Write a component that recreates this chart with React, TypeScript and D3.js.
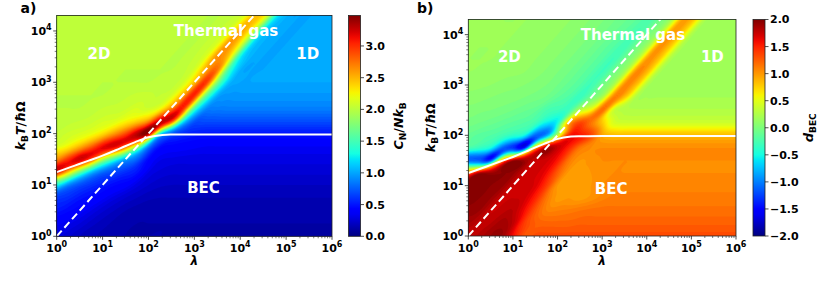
import { useMemo } from "react";
import * as d3 from "d3";

// ---------------------------------------------------------------------------
// Data. Grid nodes are in log10 units.
// ---------------------------------------------------------------------------

const gridLogLambda = [0, 0.25, 0.5, 0.75, 1, 1.25, 1.5, 1.75, 2, 2.25, 2.5, 2.75, 3, 3.25, 3.5, 3.75, 4, 4.25, 4.5, 4.75, 5, 5.25, 5.5, 5.75, 6];
const gridLogT = [0, 0.25, 0.5, 0.75, 1, 1.25, 1.5, 1.75, 2, 2.25, 2.5, 2.75, 3, 3.25, 3.5, 3.75, 4, 4.25, 4.5];

// panel a: C_N / N k_B, one row per gridLogT value (bottom row first)
const heatA: number[][] = [
  [0.30, 0.25, 0.20, 0.17, 0.15, 0.13, 0.12, 0.12, 0.12, 0.12, 0.11, 0.11, 0.11, 0.11, 0.11, 0.11, 0.11, 0.11, 0.11, 0.11, 0.11, 0.11, 0.11, 0.11, 0.11],
  [0.38, 0.33, 0.28, 0.22, 0.18, 0.15, 0.13, 0.12, 0.12, 0.12, 0.12, 0.12, 0.12, 0.12, 0.12, 0.12, 0.12, 0.12, 0.12, 0.12, 0.12, 0.12, 0.12, 0.12, 0.12],
  [0.50, 0.45, 0.40, 0.32, 0.25, 0.20, 0.16, 0.14, 0.13, 0.13, 0.13, 0.13, 0.13, 0.13, 0.13, 0.13, 0.13, 0.13, 0.13, 0.13, 0.13, 0.13, 0.13, 0.13, 0.13],
  [0.62, 0.58, 0.50, 0.45, 0.38, 0.30, 0.24, 0.20, 0.17, 0.16, 0.16, 0.16, 0.16, 0.16, 0.16, 0.16, 0.16, 0.16, 0.16, 0.16, 0.16, 0.16, 0.16, 0.16, 0.16],
  [1.30, 0.90, 0.70, 0.60, 0.52, 0.45, 0.40, 0.30, 0.24, 0.21, 0.20, 0.20, 0.20, 0.20, 0.20, 0.20, 0.20, 0.20, 0.20, 0.20, 0.20, 0.20, 0.20, 0.20, 0.20],
  [3.10, 2.40, 1.65, 1.10, 0.80, 0.68, 0.58, 0.50, 0.32, 0.27, 0.25, 0.25, 0.25, 0.25, 0.25, 0.25, 0.25, 0.25, 0.25, 0.25, 0.25, 0.25, 0.25, 0.25, 0.25],
  [2.65, 3.00, 3.25, 2.88, 2.00, 1.45, 1.00, 0.78, 0.45, 0.33, 0.31, 0.30, 0.30, 0.30, 0.30, 0.30, 0.30, 0.30, 0.30, 0.30, 0.30, 0.30, 0.30, 0.30, 0.30],
  [2.15, 2.28, 2.50, 2.80, 3.15, 3.20, 2.80, 1.95, 0.90, 0.48, 0.42, 0.40, 0.38, 0.36, 0.36, 0.36, 0.36, 0.36, 0.36, 0.36, 0.36, 0.36, 0.36, 0.36, 0.36],
  [2.05, 2.09, 2.13, 2.20, 2.35, 2.60, 2.90, 3.30, 3.35, 1.30, 0.75, 0.58, 0.52, 0.50, 0.50, 0.50, 0.50, 0.50, 0.50, 0.50, 0.50, 0.50, 0.50, 0.50, 0.50],
  [2.02, 2.03, 2.04, 2.06, 2.11, 2.14, 2.25, 2.38, 2.60, 3.25, 3.03, 1.36, 0.75, 0.70, 0.70, 0.70, 0.70, 0.70, 0.70, 0.70, 0.70, 0.70, 0.70, 0.70, 0.70],
  [2.00, 2.00, 2.00, 2.02, 2.04, 2.05, 2.07, 2.12, 2.08, 2.20, 2.63, 3.07, 1.58, 0.94, 0.87, 0.87, 0.87, 0.87, 0.87, 0.87, 0.87, 0.87, 0.87, 0.87, 0.87],
  [2.00, 2.00, 2.00, 2.00, 2.00, 2.02, 2.03, 2.05, 2.05, 2.04, 2.11, 2.52, 3.05, 1.72, 1.04, 0.95, 0.95, 0.95, 0.95, 0.95, 0.95, 0.95, 0.95, 0.95, 0.95],
  [2.00, 2.00, 2.00, 2.00, 2.00, 2.00, 2.00, 2.00, 2.00, 2.02, 2.03, 2.09, 2.45, 2.99, 1.77, 1.10, 1.00, 1.00, 1.00, 1.00, 1.00, 1.00, 1.00, 1.00, 1.00],
  [2.00, 2.00, 2.00, 2.00, 2.00, 2.00, 2.00, 2.00, 2.00, 2.00, 2.00, 2.03, 2.11, 2.53, 2.75, 1.52, 1.05, 1.00, 1.00, 1.00, 1.00, 1.00, 1.00, 1.00, 1.00],
  [2.00, 2.00, 2.00, 2.00, 2.00, 2.00, 2.00, 2.00, 2.00, 2.00, 2.00, 2.00, 2.04, 2.15, 2.63, 2.41, 1.30, 1.04, 1.00, 1.00, 1.00, 1.00, 1.00, 1.00, 1.00],
  [2.00, 2.00, 2.00, 2.00, 2.00, 2.00, 2.00, 2.00, 2.00, 2.00, 2.00, 2.00, 2.00, 2.05, 2.15, 2.62, 2.24, 1.23, 1.03, 1.00, 1.00, 1.00, 1.00, 1.00, 1.00],
  [2.00, 2.00, 2.00, 2.00, 2.00, 2.00, 2.00, 2.00, 2.00, 2.00, 2.00, 2.00, 2.00, 2.00, 2.04, 2.14, 2.56, 2.19, 1.22, 1.03, 1.00, 1.00, 1.00, 1.00, 1.00],
  [2.00, 2.00, 2.00, 2.00, 2.00, 2.00, 2.00, 2.00, 2.00, 2.00, 2.00, 2.00, 2.00, 2.00, 2.00, 2.03, 2.11, 2.47, 2.24, 1.27, 1.03, 1.00, 1.00, 1.00, 1.00],
  [2.00, 2.00, 2.00, 2.00, 2.00, 2.00, 2.00, 2.00, 2.00, 2.00, 2.00, 2.00, 2.00, 2.00, 2.00, 2.00, 2.03, 2.10, 2.43, 2.26, 1.29, 1.03, 1.00, 1.00, 1.00],
];

// panel b: d_BEC, same grid
const heatB: number[][] = [
  [1.75, 1.82, 1.90, 1.90, 1.60, 1.30, 1.32, 1.32, 1.32, 1.32, 1.32, 1.32, 1.32, 1.32, 1.32, 1.32, 1.32, 1.32, 1.32, 1.32, 1.32, 1.32, 1.32, 1.32, 1.32],
  [1.85, 1.78, 1.80, 1.88, 1.78, 1.40, 1.25, 1.22, 1.22, 1.22, 1.24, 1.24, 1.24, 1.24, 1.24, 1.24, 1.24, 1.24, 1.24, 1.24, 1.24, 1.24, 1.24, 1.24, 1.24],
  [1.93, 1.90, 1.75, 1.78, 1.80, 1.60, 1.28, 1.10, 1.10, 1.12, 1.15, 1.17, 1.17, 1.17, 1.17, 1.17, 1.17, 1.17, 1.17, 1.17, 1.17, 1.17, 1.17, 1.17, 1.17],
  [1.97, 1.95, 1.90, 1.75, 1.75, 1.72, 1.50, 1.15, 0.98, 1.00, 0.98, 1.02, 1.08, 1.12, 1.12, 1.12, 1.12, 1.12, 1.12, 1.12, 1.12, 1.12, 1.12, 1.12, 1.12],
  [1.97, 1.97, 1.95, 1.92, 1.75, 1.72, 1.68, 1.40, 1.00, 0.97, 0.97, 1.00, 1.05, 1.08, 1.08, 1.08, 1.08, 1.08, 1.08, 1.08, 1.08, 1.08, 1.08, 1.08, 1.08],
  [1.20, 1.85, 1.90, 1.95, 1.92, 1.75, 1.72, 1.60, 1.25, 0.98, 0.97, 1.00, 1.03, 1.05, 1.05, 1.05, 1.05, 1.05, 1.05, 1.05, 1.05, 1.05, 1.05, 1.05, 1.05],
  [-1.10, -1.15, -1.25, 0.90, 1.85, 1.90, 1.75, 1.72, 1.55, 1.15, 1.00, 1.02, 1.05, 1.05, 1.05, 1.05, 1.05, 1.05, 1.05, 1.05, 1.05, 1.05, 1.05, 1.05, 1.05],
  [-0.25, -0.35, -0.50, -1.10, -1.30, -1.45, 0.90, 1.85, 1.75, 1.50, 1.15, 1.05, 1.05, 1.05, 1.05, 1.05, 1.05, 1.05, 1.05, 1.05, 1.05, 1.05, 1.05, 1.05, 1.05],
  [-0.12, -0.17, -0.20, -0.27, -0.38, -0.50, -1.10, -0.90, 0.30, 1.50, 1.55, 1.35, 0.95, 0.85, 0.85, 0.85, 0.85, 0.85, 0.85, 0.85, 0.85, 0.85, 0.85, 0.85, 0.85],
  [-0.02, -0.05, -0.08, -0.12, -0.16, -0.20, -0.28, -0.55, -0.50, 0.90, 1.35, 1.15, 0.80, 0.45, 0.40, 0.40, 0.40, 0.40, 0.40, 0.40, 0.40, 0.40, 0.40, 0.40, 0.40],
  [0.03, 0.01, 0.00, -0.02, -0.05, -0.09, -0.13, -0.25, -0.30, -0.30, 0.30, 0.60, 1.20, 0.40, 0.28, 0.26, 0.26, 0.26, 0.26, 0.26, 0.26, 0.26, 0.26, 0.26, 0.26],
  [0.08, 0.07, 0.05, 0.03, 0.02, 0.00, -0.03, -0.06, -0.15, -0.22, -0.33, -0.05, 0.25, 1.10, 0.80, 0.25, 0.20, 0.20, 0.20, 0.20, 0.20, 0.20, 0.20, 0.20, 0.20],
  [0.12, 0.11, 0.10, 0.08, 0.07, 0.05, 0.03, 0.00, -0.05, -0.12, -0.20, -0.30, -0.05, 0.22, 1.05, 0.85, 0.25, 0.18, 0.18, 0.18, 0.18, 0.18, 0.18, 0.18, 0.18],
  [0.15, 0.14, 0.13, 0.12, 0.11, 0.10, 0.07, 0.04, 0.00, -0.05, -0.12, -0.20, -0.30, -0.05, 0.22, 1.05, 0.85, 0.25, 0.18, 0.18, 0.18, 0.18, 0.18, 0.18, 0.18],
  [0.15, 0.15, 0.15, 0.14, 0.13, 0.12, 0.10, 0.07, 0.04, 0.00, -0.05, -0.12, -0.20, -0.30, -0.05, 0.22, 1.00, 0.82, 0.25, 0.18, 0.18, 0.18, 0.18, 0.18, 0.18],
  [0.15, 0.15, 0.15, 0.15, 0.14, 0.13, 0.12, 0.10, 0.07, 0.04, 0.00, -0.05, -0.12, -0.20, -0.28, -0.05, 0.22, 1.00, 0.80, 0.25, 0.18, 0.18, 0.18, 0.18, 0.18],
  [0.15, 0.15, 0.15, 0.15, 0.15, 0.14, 0.13, 0.12, 0.10, 0.07, 0.04, 0.00, -0.05, -0.11, -0.18, -0.26, -0.05, 0.20, 0.97, 0.80, 0.24, 0.18, 0.18, 0.18, 0.18],
  [0.15, 0.15, 0.15, 0.15, 0.15, 0.15, 0.14, 0.13, 0.12, 0.10, 0.07, 0.04, 0.00, -0.05, -0.10, -0.16, -0.24, -0.05, 0.20, 0.95, 0.80, 0.24, 0.18, 0.18, 0.18],
  [0.15, 0.15, 0.15, 0.15, 0.15, 0.15, 0.15, 0.14, 0.13, 0.12, 0.10, 0.07, 0.04, 0.00, -0.05, -0.10, -0.15, -0.22, -0.05, 0.20, 0.93, 0.78, 0.24, 0.18, 0.18],
];

// critical temperature (solid white line)
const tcLambda = [1, 2, 3, 5, 10, 20, 30, 50, 100, 200, 300, 1000, 10000, 1000000];
const tcTemp = [17.8, 22.2, 25.3, 29.8, 37.2, 47.9, 56.2, 67.6, 85.1, 94.4, 96.0, 96.5, 96.5, 96.5];

// kT = λ ħΩ (dashed white line)
const dashLambda = [1, 1000000];
const dashTemp = [1, 1000000];

const xTickExps = [0, 1, 2, 3, 4, 5, 6];
const yTickExps = [0, 1, 2, 3, 4];
const cbTicksA = [0, 0.5, 1, 1.5, 2, 2.5, 3];
const cbTicksB = [-2, -1.5, -1, -0.5, 0, 0.5, 1, 1.5, 2];
const regionNames = ["2D", "Thermal gas", "1D", "BEC"];

// ---------------------------------------------------------------------------
// jet colormap (matplotlib segment data)
// ---------------------------------------------------------------------------

const jetR = d3.scaleLinear().domain([0, 0.35, 0.66, 0.89, 1]).range([0, 0, 1, 1, 0.5]).clamp(true);
const jetG = d3.scaleLinear().domain([0, 0.125, 0.375, 0.64, 0.91, 1]).range([0, 0, 1, 1, 0, 0]).clamp(true);
const jetB = d3.scaleLinear().domain([0, 0.11, 0.34, 0.65, 1]).range([0.5, 1, 1, 0, 0]).clamp(true);
const jet = (t: number) => d3.rgb(jetR(t) * 255, jetG(t) * 255, jetB(t) * 255).formatHex();

const FONT = "DejaVu Sans";

// cubic shading of the grid; the second pass runs along the λ = T diagonal
// so the diagonal ridges stay continuous
function catmull(p0: number, p1: number, p2: number, p3: number, t: number) {
  return (
    0.5 *
    (2 * p1 +
      (-p0 + p2) * t +
      (2 * p0 - 5 * p1 + 4 * p2 - p3) * t * t +
      (-p0 + 3 * p1 - 3 * p2 + p3) * t * t * t)
  );
}

function shade(rows: number[][], f: number, lo: number) {
  const ny = rows.length;
  const nx = rows[0].length;
  const w = (nx - 1) * f + 1;
  const h = (ny - 1) * f + 1;
  const rowAt = (r: number, gx: number) => {
    const row = rows[Math.max(0, Math.min(ny - 1, r))];
    const i = Math.floor(gx);
    const t = gx - i;
    const g = (k: number) => row[Math.max(0, Math.min(nx - 1, k))];
    return catmull(g(i - 1), g(i), g(i + 1), g(i + 2), t);
  };
  const values = new Array(w * h);
  for (let J = 0; J < h; J++) {
    const gy = J / f;
    const j = Math.min(Math.floor(gy), ny - 2);
    const ty = gy - j;
    for (let I = 0; I < w; I++) {
      const gx = I / f;
      const c = [-1, 0, 1, 2].map((dj) => rowAt(j + dj, gx + (j + dj - gy)));
      values[J * w + I] = Math.max(lo, catmull(c[0], c[1], c[2], c[3], ty));
    }
  }
  return { values, w, h };
}

type PanelProps = {
  id: string;
  rows: number[][];
  vmin: number;
  vmax: number;
  step: number;
  left: number;
  right: number;
  top: number;
  bottom: number;
  cbLeft: number;
  cbTicks: number[];
  tag: string;
  tagX: number;
  yLabelX: number;
  cbLabelX: number;
  cbLabel: "cn" | "dbec";
};

function fmtTick(v: number) {
  return (v < 0 ? "\u2212" : "") + Math.abs(v).toFixed(1);
}

function Panel(p: PanelProps) {
  const x = d3.scaleLog().domain([1, 1e6]).range([p.left, p.right]);
  const y = d3.scaleLog().domain([1, 2e4]).range([p.bottom, p.top]);

  const paths = useMemo(() => {
    const F = 6;
    const lx0 = gridLogLambda[0];
    const dlx = (gridLogLambda[1] - gridLogLambda[0]) / F;
    const ly0 = gridLogT[0];
    const dly = (gridLogT[1] - gridLogT[0]) / F;
    const { values, w, h } = shade(p.rows, F, p.vmin);
    const levels = d3.range(p.vmin, p.vmax, p.step);
    const cs = d3.contours().size([w, h]).thresholds(levels)(values);
    const proj = d3.geoTransform({
      point(px: number, py: number) {
        // @ts-ignore
        this.stream.point(x(10 ** (lx0 + (px - 0.5) * dlx)), y(10 ** (ly0 + (py - 0.5) * dly)));
      },
    });
    const gp = d3.geoPath(proj);
    return cs.map((c) => ({
      d: gp(c as any) ?? "",
      fill: jet((c.value + p.step / 2 - p.vmin) / (p.vmax - p.vmin)),
    }));
  }, [p.rows]);

  const tcPath = d3
    .line<number>()
    .x((i) => x(tcLambda[i]))
    .y((i) => y(tcTemp[i]))
    .curve(d3.curveMonotoneX)(d3.range(tcLambda.length));

  const dashPath = d3
    .line<number>()
    .x((i) => x(dashLambda[i]))
    .y((i) => y(dashTemp[i]))(d3.range(dashLambda.length));

  const minorX: number[] = [];
  for (let e = 0; e < 6; e++) for (let m = 2; m <= 9; m++) minorX.push(m * 10 ** e);
  const minorY: number[] = [];
  for (let e = 0; e < 5; e++)
    for (let m = 2; m <= 9; m++) if (m * 10 ** e < 2e4) minorY.push(m * 10 ** e);

  const cb = d3.scaleLinear().domain([p.vmin, p.vmax]).range([p.bottom, p.top]);
  const cbW = 12;
  const gradStops = d3.range(0, 1.0001, 0.025);

  const labelPos: [number, number][] = [
    [10 ** 0.92, 10 ** 3.56],
    [10 ** 3.69, 10 ** 4.0],
    [10 ** 5.47, 10 ** 3.56],
    [10 ** 3.2, 10 ** 0.95],
  ];

  const midY = (p.top + p.bottom) / 2;

  return (
    <g fontFamily={FONT} fontWeight="bold">
      <defs>
        <clipPath id={`clip-${p.id}`}>
          <rect x={p.left} y={p.top} width={p.right - p.left} height={p.bottom - p.top} />
        </clipPath>
        <linearGradient id={`grad-${p.id}`} x1="0" y1="1" x2="0" y2="0">
          {gradStops.map((t) => (
            <stop key={t} offset={t} stopColor={jet(t)} />
          ))}
        </linearGradient>
      </defs>

      <g clipPath={`url(#clip-${p.id})`}>
        {paths.map((c, i) => (
          <path key={i} d={c.d} fill={c.fill} />
        ))}
        {regionNames.map((name, i) => (
          <text
            key={name}
            x={x(labelPos[i][0])}
            y={y(labelPos[i][1])}
            dy="0.36em"
            textAnchor="middle"
            fill="#ffffff"
            fontSize={15}
          >
            {name}
          </text>
        ))}
        <path d={tcPath ?? ""} fill="none" stroke="#ffffff" strokeWidth={2} />
        <path d={dashPath ?? ""} fill="none" stroke="#ffffff" strokeWidth={2} strokeDasharray="7.5,4" />
      </g>

      <rect
        x={p.left}
        y={p.top}
        width={p.right - p.left}
        height={p.bottom - p.top}
        fill="none"
        stroke="#222"
        strokeWidth={0.8}
      />

      {/* x axis */}
      {minorX.map((v) => (
        <line key={v} x1={x(v)} x2={x(v)} y1={p.bottom} y2={p.bottom + 2} stroke="#222" strokeWidth={0.6} />
      ))}
      {xTickExps.map((e) => (
        <g key={e}>
          <line x1={x(10 ** e)} x2={x(10 ** e)} y1={p.bottom} y2={p.bottom + 3.5} stroke="#222" strokeWidth={0.8} />
          <text x={x(10 ** e)} y={p.bottom + 15.5} textAnchor="middle" fontSize={11}>
            10<tspan dy={-4.5} fontSize={8}>{e}</tspan>
          </text>
        </g>
      ))}
      <text x={(p.left + p.right) / 2} y={p.bottom + 28.5} textAnchor="middle" fontSize={12} fontStyle="italic">
        λ
      </text>

      {/* y axis */}
      {minorY.map((v) => (
        <line key={v} x1={p.left - 2} x2={p.left} y1={y(v)} y2={y(v)} stroke="#222" strokeWidth={0.6} />
      ))}
      {yTickExps.map((e) => (
        <g key={e}>
          <line x1={p.left - 3.5} x2={p.left} y1={y(10 ** e)} y2={y(10 ** e)} stroke="#222" strokeWidth={0.8} />
          <text x={p.left - 5} y={y(10 ** e) + 4} textAnchor="end" fontSize={11}>
            10<tspan dy={-4.5} fontSize={8}>{e}</tspan>
          </text>
        </g>
      ))}
      <text
        transform={`translate(${p.yLabelX},${midY}) rotate(-90)`}
        textAnchor="middle"
        fontSize={12.5}
      >
        <tspan fontStyle="italic">k</tspan>
        <tspan dy={3} fontSize={9}>B</tspan>
        <tspan dy={-3} fontStyle="italic">T</tspan>
        <tspan>/</tspan>
        <tspan fontStyle="italic">ħ</tspan>
        <tspan>Ω</tspan>
      </text>

      {/* colorbar */}
      <rect x={p.cbLeft} y={p.top} width={cbW} height={p.bottom - p.top} fill={`url(#grad-${p.id})`} />
      <rect
        x={p.cbLeft}
        y={p.top}
        width={cbW}
        height={p.bottom - p.top}
        fill="none"
        stroke="#222"
        strokeWidth={0.8}
      />
      {p.cbTicks.map((v) => (
        <g key={v}>
          <line x1={p.cbLeft + cbW} x2={p.cbLeft + cbW + 3.5} y1={cb(v)} y2={cb(v)} stroke="#222" strokeWidth={0.8} />
          <text x={p.cbLeft + cbW + 5} y={cb(v)} dy="0.36em" fontSize={11}>
            {fmtTick(v)}
          </text>
        </g>
      ))}
      {p.cbLabel === "cn" ? (
        <text transform={`translate(${p.cbLabelX},${midY}) rotate(-90)`} textAnchor="middle" fontSize={12.5}>
          <tspan fontStyle="italic">C</tspan>
          <tspan dy={3} fontSize={9}>N</tspan>
          <tspan dy={-3}>/</tspan>
          <tspan fontStyle="italic">Nk</tspan>
          <tspan dy={3} fontSize={9}>B</tspan>
        </text>
      ) : (
        <text transform={`translate(${p.cbLabelX},${midY}) rotate(-90)`} textAnchor="middle" fontSize={13}>
          <tspan fontStyle="italic">d</tspan>
          <tspan dy={3} fontSize={9}>BEC</tspan>
        </text>
      )}

      <text x={p.tagX} y={13} fontSize={14}>
        {p.tag}
      </text>
    </g>
  );
}

export default function App() {
  return (
    <svg
      width={830}
      height={282}
      style={{ position: "absolute", left: 0, top: 0, background: "#ffffff" }}
    >
      <Panel
        id="a"
        rows={heatA}
        vmin={0}
        vmax={3.48}
        step={0.04}
        left={56.7}
        right={332}
        top={15.5}
        bottom={236.3}
        cbLeft={348.5}
        cbTicks={cbTicksA}
        tag="a)"
        tagX={20.5}
        yLabelX={24.5}
        cbLabelX={403}
        cbLabel="cn"
      />
      <Panel
        id="b"
        rows={heatB}
        vmin={-2}
        vmax={2}
        step={0.05}
        left={468.3}
        right={736}
        top={19.5}
        bottom={236}
        cbLeft={753}
        cbTicks={cbTicksB}
        tag="b)"
        tagX={417}
        yLabelX={434.5}
        cbLabelX={813}
        cbLabel="dbec"
      />
    </svg>
  );
}
